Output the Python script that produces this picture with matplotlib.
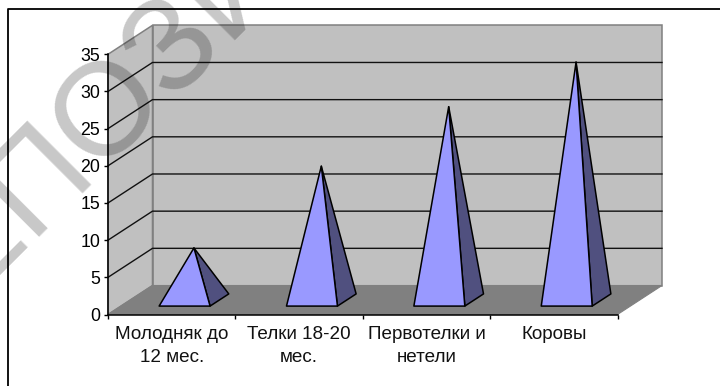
import matplotlib
matplotlib.use("Agg")
import matplotlib.pyplot as plt
from matplotlib.lines import Line2D
from matplotlib.patches import Polygon

categories = ["Молодняк до\n12 мес.", "Телки 18-20\nмес.", "Первотелки и\nнетели", "Коровы"]
values = [7, 18, 26, 32]
y_ticks = [0, 5, 10, 15, 20, 25, 30, 35]
watermark = "ЕПОЗИ"

WALL = "#C0C0C0"
FLOOR = "#808080"
EDGE = "#808080"
FRONT = "#9999FF"
SIDE = "#50507F"

W, H = 720, 386
plt.rcParams["font.family"] = ["Liberation Sans", "DejaVu Sans"]
fig = plt.figure(figsize=(W / 100, H / 100), dpi=100, facecolor="white")

# Front plane of the pseudo-3D box, placed in figure pixels
left, right, top, bottom = 108, 617.5, 54.3, 314.5
ax = fig.add_axes([left / W, 1 - bottom / H, (right - left) / W, (bottom - top) / H])
ax.set_xlim(0, 4)
ax.set_ylim(0, 35)
ax.patch.set_visible(False)

# Depth vector of the box, in data units
DX = 44.5 / ((right - left) / 4)
DY = 29 / ((bottom - top) / 35)
ymax = y_ticks[-1]
nx = len(categories)


def proj(x, v, d):
    """Project a point (category position, value, depth 0..1) onto the axes."""
    return (x + d * DX, v + d * DY)


def face(points, **kw):
    ax.add_patch(Polygon([proj(*p) for p in points], closed=True, clip_on=False, **kw))


# Walls and floor
face([(0, 0, 1), (nx, 0, 1), (nx, ymax, 1), (0, ymax, 1)], facecolor=WALL, edgecolor=EDGE, lw=1.1, zorder=1)
face([(0, 0, 0), (0, 0, 1), (0, ymax, 1), (0, ymax, 0)], facecolor=WALL, edgecolor=EDGE, lw=1.1, zorder=1)
face([(0, 0, 0), (nx, 0, 0), (nx, 0, 1), (0, 0, 1)], facecolor=FLOOR, edgecolor=EDGE, lw=0.8, zorder=2)

# Gridlines run along the side wall and across the back wall
for t in y_ticks[1:-1]:
    pts = [proj(0, t, 0), proj(0, t, 1), proj(nx, t, 1)]
    ax.add_line(Line2D(*zip(*pts), color="#111111", lw=1.0, clip_on=False, zorder=1.5))

# Pyramids
HALF = 0.2
D0, D1 = 0.29, 0.71
for i, v in enumerate(values):
    c = i + 0.5
    apex = (c, v, 0.5)
    fl, fr, br = (c - HALF, 0, D0), (c + HALF, 0, D0), (c + HALF, 0, D1)
    kw = dict(edgecolor="black", lw=1.1, joinstyle="round", zorder=3)
    face([fr, br, apex], facecolor=SIDE, **kw)
    face([fl, fr, apex], facecolor=FRONT, **kw)

# Axes furniture
for s in ("top", "right"):
    ax.spines[s].set_visible(False)
for s in ("left", "bottom"):
    ax.spines[s].set_linewidth(1.1)
    ax.spines[s].set_zorder(4)
ax.set_yticks(y_ticks)
ax.set_xticks(range(nx + 1))
ax.set_xticklabels([])
ax.tick_params(axis="both", length=3, width=1.0, color="black")
ax.tick_params(axis="y", labelsize=12.8, pad=2.5)
for i, name in enumerate(categories):
    ax.annotate(name, xy=(i + 0.5, 0), xycoords=("data", "axes fraction"),
                xytext=(0, -8), textcoords="offset points",
                ha="center", va="top", fontsize=13.6, linespacing=1.52,
                color="#111111", annotation_clip=False)

# Chart-area frame: only its left and top edges fall inside the canvas
fig.add_artist(Line2D([8 / W, 8 / W, 1], [0, 1 - 9 / H, 1 - 9 / H], color="black", lw=1.3))

# Diagonal translucent watermark over the whole chart
fig.text(105 / W, 1 - 111 / H, watermark, fontsize=95, rotation=45, rotation_mode="anchor",
         ha="center", va="center", color="black", alpha=0.22, zorder=10)

fig.savefig("out.png", dpi=100)
